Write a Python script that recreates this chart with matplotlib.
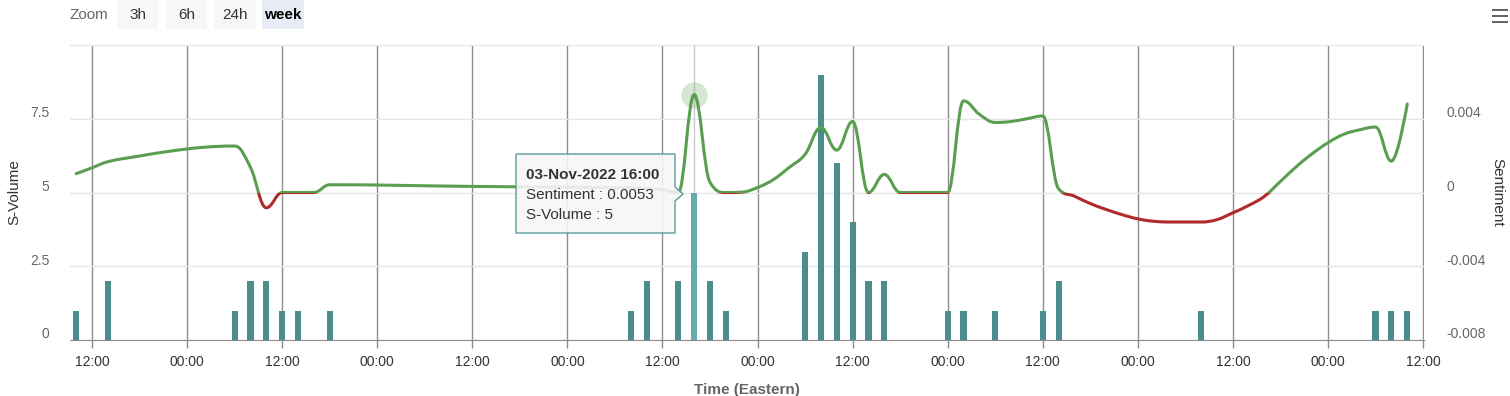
import numpy as np
import matplotlib.pyplot as plt
from matplotlib.path import Path
from matplotlib.patches import PathPatch, Rectangle, Polygon
from matplotlib.transforms import ScaledTranslation

plt.rcParams['font.family'] = ['Liberation Sans', 'DejaVu Sans']

# 数据: 小时数, 0 = 2022-10-31 00:00 (Eastern)
bar_hours = [10, 14, 30, 32, 34, 36, 38, 42, 80, 82, 86, 88, 90, 92,
             102, 104, 106, 108, 110, 112, 120, 122, 126, 132, 134, 152, 174, 176, 178]
bar_volume = [1, 2, 1, 2, 2, 1, 1, 1, 1, 2, 2, 5, 2, 1,
              3, 9, 6, 4, 2, 2, 1, 1, 1, 1, 2, 1, 1, 1, 1]

sent_hours = [10, 12, 14, 18, 22, 26, 30, 32, 34, 36, 38, 40, 42, 60, 80, 84, 86, 88, 90,
              92, 94, 96, 98, 100, 102, 104, 106, 108, 110, 112, 114, 116, 118, 120, 122,
              124, 126, 128, 130, 132, 134, 136, 138, 140, 142, 144, 146, 148, 150, 152,
              154, 156, 158, 160, 162, 164, 166, 168, 170, 172, 174, 176, 178]
sent_values = [0.00102, 0.00134, 0.00167, 0.00198, 0.00225, 0.00245, 0.00252, 0.00136,
               -0.00083, 0.0, 0.0, 0.0, 0.00042, 0.00033, 0.00025, 0.00015, 0.0, 0.0053,
               0.00055, 0.0, 0.00002, 0.00027, 0.0007, 0.00136, 0.00207, 0.00352, 0.0023,
               0.00385, 0.0, 0.00098, 0.0, 0.0, 0.0, 0.0, 0.00497, 0.00424, 0.0038, 0.00385,
               0.004, 0.00415, 0.0002, -0.0002, -0.0006, -0.00092, -0.0012, -0.00143,
               -0.00156, -0.0016, -0.0016, -0.0016, -0.00147, -0.0011, -0.0007, -0.0002,
               0.0006, 0.0014, 0.0021, 0.0027, 0.00316, 0.0034, 0.00355, 0.0017, 0.0048]

x_ticks = list(range(12, 181, 12))
x_ticklabels = ['12:00' if h % 24 else '00:00' for h in x_ticks]
vol_ticks = [0, 2.5, 5, 7.5, 10]
vol_ticklabels = ['0', '2.5', '5', '7.5', '']
sent_ticks = [-0.008, -0.004, 0, 0.004, 0.008]
sent_ticklabels = ['-0.008', '-0.004', '0', '0.004', '']

hover_hour = 88
hover_label = '03-Nov-2022 16:00'

W, H = 1510, 396
BAR = '#4b8d8c'
BAR_HOVER = '#66abab'
GREEN = '#5a9e50'
RED = '#b02a2a'


def fx(x, y):
    # 像素坐标 -> figure 坐标
    return (x / W, 1 - y / H)


def spline_path(xs, ys, smoothing=1.5):
    # 仿 Highcharts spline 的控制点算法
    n = len(xs)
    lc = list(zip(xs, ys))
    rc = list(zip(xs, ys))
    d = smoothing + 1
    for i in range(1, n - 1):
        px, py = xs[i], ys[i]
        lx = (smoothing * px + xs[i - 1]) / d
        ly = (smoothing * py + ys[i - 1]) / d
        rx = (smoothing * px + xs[i + 1]) / d
        ry = (smoothing * py + ys[i + 1]) / d
        if rx != lx:
            c = (ry - ly) * (rx - px) / (rx - lx) + py - ry
            ly += c
            ry += c
        if ly > ys[i - 1] and ly > py:
            ly = max(ys[i - 1], py); ry = 2 * py - ly
        elif ly < ys[i - 1] and ly < py:
            ly = min(ys[i - 1], py); ry = 2 * py - ly
        if ry > ys[i + 1] and ry > py:
            ry = max(ys[i + 1], py); ly = 2 * py - ry
        elif ry < ys[i + 1] and ry < py:
            ry = min(ys[i + 1], py); ly = 2 * py - ry
        lc[i] = (lx, ly)
        rc[i] = (rx, ry)
    verts = [(xs[0], ys[0])]
    codes = [Path.MOVETO]
    for i in range(1, n):
        verts += [rc[i - 1], lc[i], (xs[i], ys[i])]
        codes += [Path.CURVE4] * 3
    return Path(verts, codes)


fig = plt.figure(figsize=(W / 100, H / 100), dpi=100)
ax = fig.add_axes([70 / W, 56 / H, 1354 / W, 295 / H])
ax2 = ax.twinx()

# 柱状图 S-Volume
colors = [BAR_HOVER if h == hover_hour else BAR for h in bar_hours]
ax.bar(bar_hours, bar_volume, width=0.78, color=colors, zorder=2)
ax.axvline(hover_hour, color='#cccccc', lw=1, zorder=1)

ax.set_xlim(9.22, 180.12)
ax.set_ylim(0, 10)
ax.set_xticks(x_ticks)
ax.set_xticklabels(x_ticklabels)
ax.set_yticks(vol_ticks)
ax.set_yticklabels(vol_ticklabels)
ax.set_axisbelow(True)
ax.xaxis.grid(True, color='#8c8c8c', lw=1)
ax.yaxis.grid(True, color='#e6e6e6', lw=1)
ax.tick_params(axis='x', length=6, width=1, color='#8c8c8c', pad=5, labelsize=10, labelcolor='#333333')
ax.tick_params(axis='y', length=0, pad=15, labelsize=10, labelcolor='#666666')
for s in ['top', 'left', 'right']:
    ax.spines[s].set_visible(False)
ax.spines['bottom'].set_color('#8c8c8c')
ax.set_ylabel('S-Volume', fontsize=11, color='#333333')
ax.yaxis.set_label_coords(-0.036, 0.5)
ax.set_xlabel('Time (Eastern)', fontsize=11, color='#666666', fontweight='bold')
ax.xaxis.set_label_coords(0.5, -0.146)

# 折线 Sentiment (>=0 绿色, <0 红色)
path = spline_path(sent_hours, sent_values)
zone = -0.000012  # 零线处绿色稍多一点
for col, y0, y1 in [(GREEN, zone, 1), (RED, -1, zone)]:
    p = PathPatch(path, facecolor='none', edgecolor=col, lw=2.2,
                  capstyle='round', joinstyle='round', zorder=3)
    ax2.add_patch(p)
    p.set_clip_path(Rectangle((0, y0), 300, y1 - y0, transform=ax2.transData))

hv = sent_values[sent_hours.index(hover_hour)]
ax2.plot([hover_hour], [hv], 'o', ms=19, color=GREEN, alpha=0.25, mec='none', zorder=4)
ax2.plot([hover_hour], [hv], 'o', ms=3, color=GREEN, mec='none', zorder=5)

ax2.set_xlim(9.22, 180.12)
ax2.set_ylim(-0.008, 0.008)
ax2.set_yticks(sent_ticks)
ax2.set_yticklabels(sent_ticklabels)
ax2.tick_params(axis='y', length=0, pad=16, labelsize=10, labelcolor='#666666')
for s in ['top', 'left', 'right', 'bottom']:
    ax2.spines[s].set_visible(False)
ax2.set_ylabel('Sentiment', fontsize=11, color='#333333', rotation=270)
ax2.yaxis.set_label_coords(1.059, 0.5)

# y 轴标签略高于网格线
off = ScaledTranslation(0, 0.07, fig.dpi_scale_trans)
for lbl in ax.get_yticklabels() + ax2.get_yticklabels():
    lbl.set_transform(lbl.get_transform() + off)

# Zoom 按钮
fig.text(*fx(70, 15), 'Zoom', fontsize=11, color='#666666', va='center')
for txt, x0, x1, active in [('3h', 117, 158, False), ('6h', 166, 207, False),
                            ('24h', 214, 256, False), ('week', 262, 304, True)]:
    fig.add_artist(Rectangle(fx(x0, 29), (x1 - x0) / W, 29 / H, transform=fig.transFigure,
                             facecolor='#e6ebf5' if active else '#f7f7f7', edgecolor='none'))
    fig.text(*fx((x0 + x1) / 2, 15), txt, fontsize=11, color='#000000' if active else '#333333',
             ha='center', va='center', fontweight='bold' if active else 'normal')

# 菜单图标
for yy in [10, 16, 22]:
    fig.add_artist(Rectangle(fx(1492, yy + 1), 16 / W, 2.2 / H, transform=fig.transFigure,
                             facecolor='#666666', edgecolor='none'))

# 提示框
tip = [(516, 154), (675, 154), (675, 187), (683, 194), (675, 201), (675, 233), (516, 233)]
fig.add_artist(Polygon([fx(x, y) for x, y in tip], closed=True, transform=fig.transFigure,
                       facecolor=(0.97, 0.97, 0.97, 0.88), edgecolor='#5a9c9c', lw=1,
                       joinstyle='round', zorder=10))
hvol = bar_volume[bar_hours.index(hover_hour)]
fig.text(*fx(526, 175), hover_label, fontsize=11, fontweight='bold', color='#333333', va='center', zorder=11)
fig.text(*fx(526, 195), 'Sentiment : %s' % hv, fontsize=11, color='#333333', va='center', zorder=11)
fig.text(*fx(526, 215), 'S-Volume : %d' % hvol, fontsize=11, color='#333333', va='center', zorder=11)

fig.savefig('out.png', dpi=100)
